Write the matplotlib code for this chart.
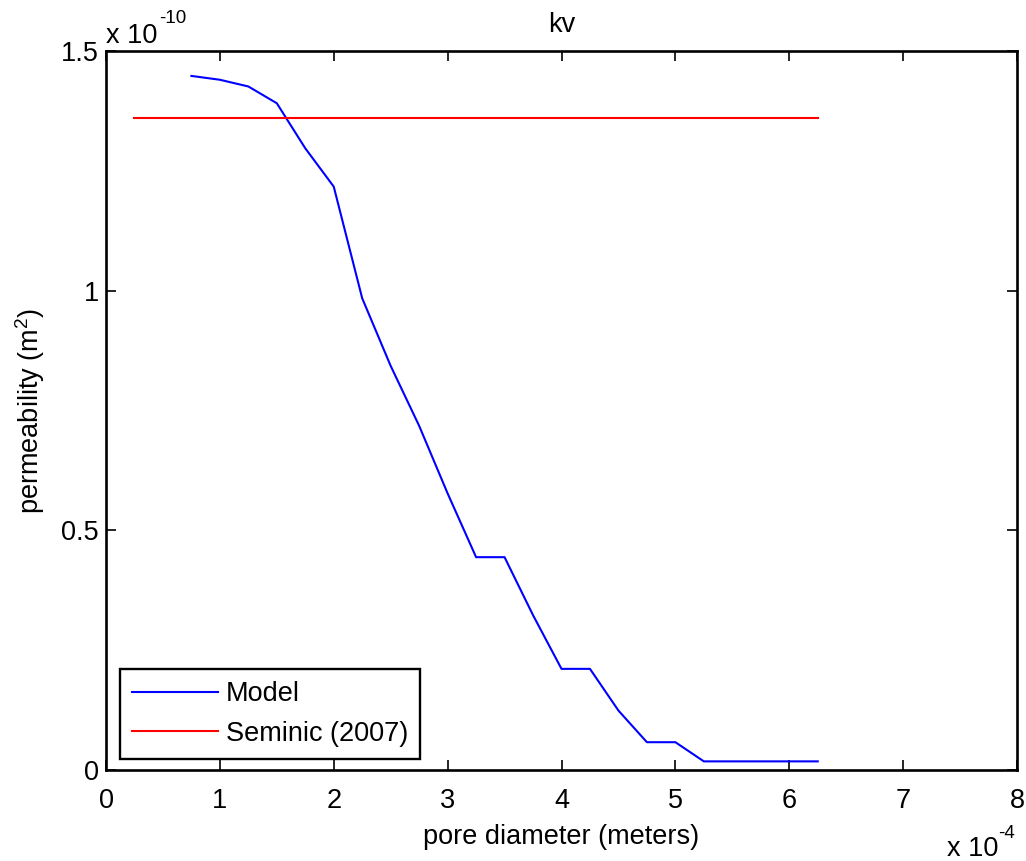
import matplotlib
matplotlib.use("Agg")
import matplotlib.pyplot as plt
import numpy as np
from matplotlib.ticker import FuncFormatter

plt.rcParams["font.family"] = ["Liberation Sans", "DejaVu Sans"]

# pore diameter (m) and modelled permeability (m^2)
pore_diameter = np.array([0.75, 1.0, 1.25, 1.5, 1.75, 2.0, 2.25, 2.5, 2.75, 3.0,
                          3.25, 3.5, 3.75, 4.0, 4.25, 4.5, 4.75, 5.0, 5.25, 6.25]) * 1e-4
model_k = np.array([1.448, 1.440, 1.426, 1.391, 1.297, 1.217, 0.984, 0.843, 0.718, 0.577,
                    0.444, 0.444, 0.323, 0.211, 0.211, 0.124, 0.058, 0.058, 0.018, 0.018]) * 1e-10

# Seminic (2007) reference value
seminic_x = np.array([0.25, 6.25]) * 1e-4
seminic_k = np.array([1.36, 1.36]) * 1e-10

xticks = np.arange(0, 9) * 1e-4
yticks = np.array([0, 0.5, 1.0, 1.5]) * 1e-10

FS = 19.5
W, H = 1026, 861

fig = plt.figure(figsize=(W / 100, H / 100), dpi=100)
ax = fig.add_axes([106 / W, 91 / H, 911 / W, 719 / H])

ax.plot(pore_diameter, model_k, color=(0, 0, 1), lw=1.5, label="Model")
ax.plot(seminic_x, seminic_k, color=(1, 0, 0), lw=1.5, label="Seminic (2007)")

ax.set_xlim(0, 8e-4)
ax.set_ylim(0, 1.5e-10)
ax.set_xticks(xticks)
ax.set_yticks(yticks)
ax.xaxis.set_major_formatter(FuncFormatter(lambda v, p: f"{v / 1e-4:g}"))
ax.yaxis.set_major_formatter(FuncFormatter(lambda v, p: f"{v / 1e-10:g}"))
ax.tick_params(direction="in", length=7.5, width=1.2, labelsize=FS,
               top=True, right=True)
ax.tick_params(axis="x", pad=13)
ax.tick_params(axis="y", pad=5)
for s in ax.spines.values():
    s.set_linewidth(1.9)

# MATLAB-style exponent labels
fig.text(106 / W, 1 - 43 / H, "x 10", fontsize=FS, va="baseline", ha="left")
fig.text(159 / W, 1 - 23 / H, "-10", fontsize=13.5, va="baseline", ha="left")
fig.text(947 / W, 1 - 856 / H, "x 10", fontsize=FS, va="baseline", ha="left")
fig.text(998 / W, 1 - 838 / H, "-4", fontsize=13.5, va="baseline", ha="left")

ax.set_title("kv", fontsize=FS, pad=13.5)
ax.set_xlabel("pore diameter (meters)", fontsize=FS, labelpad=7)
ax.set_ylabel("permeability (m$^{\\mathregular{2}}$)", fontsize=FS, labelpad=10)

leg = ax.legend(loc="lower left", bbox_to_anchor=(0.0154, 0.0153), borderaxespad=0,
                fontsize=FS, fancybox=False, framealpha=1, edgecolor="black",
                handlelength=3.15, handletextpad=0.3, borderpad=0.45,
                labelspacing=0.5)
leg.get_frame().set_linewidth(1.7)

fig.savefig("out.png", dpi=100)
